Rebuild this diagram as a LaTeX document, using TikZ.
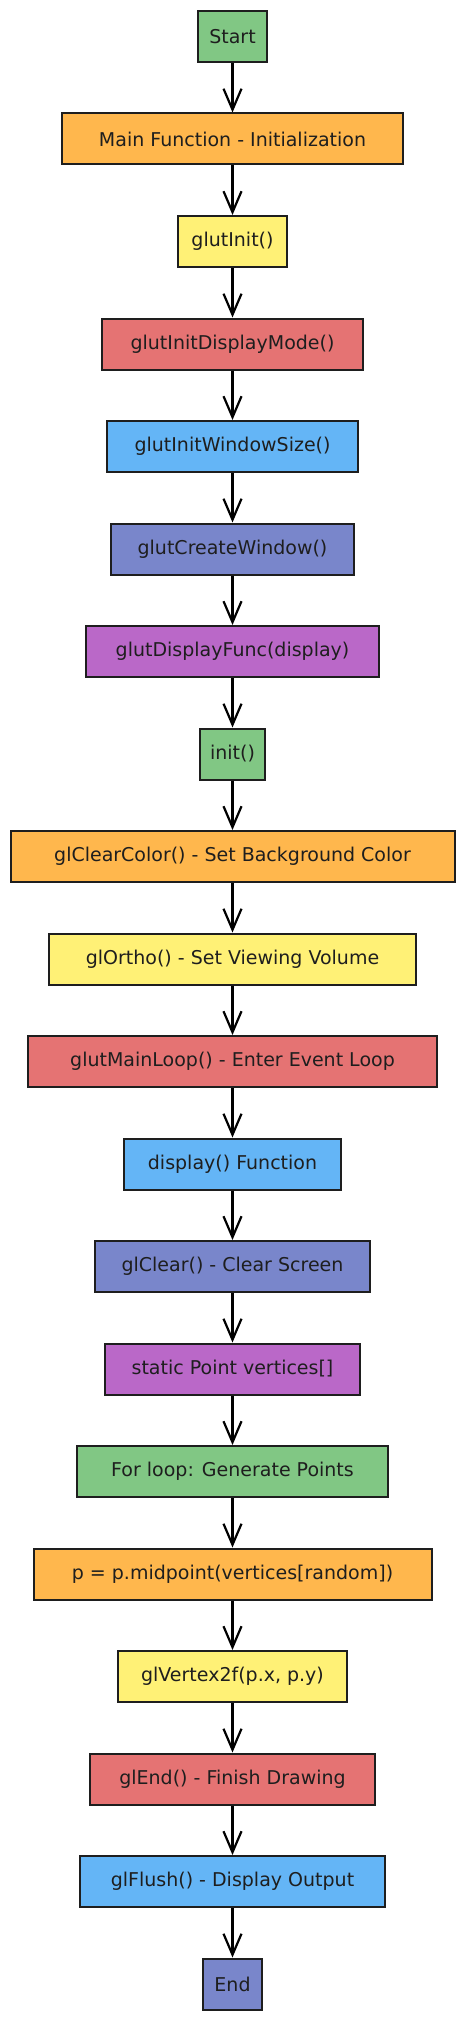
\documentclass[tikz,border=0pt]{standalone}
\usepackage{fontspec}
\setmainfont{DejaVu Sans}
\usepackage{xcolor}
\usepackage{tikz}
\usetikzlibrary{shapes.geometric, arrows.meta}
\definecolor{inkgray}{HTML}{1E1E1E}
\definecolor{boxgreen}{HTML}{81C784}
\definecolor{boxorange}{HTML}{FFB74D}
\definecolor{boxyellow}{HTML}{FFF176}
\definecolor{boxred}{HTML}{E57373}
\definecolor{boxblue}{HTML}{64B5F6}
\definecolor{boxindigo}{HTML}{7986CB}
\definecolor{boxpurple}{HTML}{BA68C8}
\tikzstyle{block} = [rectangle, 
minimum height=51pt, 
inner sep=0pt,
text centered, 
draw=inkgray, 
line width=2pt,
text=inkgray,
font=\fontsize{19}{23}\selectfont]
\tikzstyle{arrow} = [line width=2.2pt, draw=black, ->, >={Straight Barb[length=21pt, width=18pt]}]

\begin{document}
\begin{tikzpicture}[node distance=102.5pt]
\useasboundingbox (0,0) rectangle (465pt,-2020pt);

\node (start) [block, fill=boxgreen, minimum width=69pt] at (232.5pt,-36.5pt) {Start};
\node (mainfunc) [block, fill=boxorange, minimum width=341pt, below of=start] {Main Function - Initialization};
\node (glutinit) [block, fill=boxyellow, minimum width=109pt, below of=mainfunc] {glutInit()};
\node (displaymode) [block, fill=boxred, minimum width=261pt, below of=glutinit] {glutInitDisplayMode()};
\node (windowsize) [block, fill=boxblue, minimum width=251pt, below of=displaymode] {glutInitWindowSize()};
\node (createwindow) [block, fill=boxindigo, minimum width=243pt, below of=windowsize] {glutCreateWindow()};
\node (displayfunc) [block, fill=boxpurple, minimum width=293pt, below of=createwindow] {glutDisplayFunc(display)};
\node (init) [block, fill=boxgreen, minimum width=65pt, below of=displayfunc] {init()};
\node (clearcolor) [block, fill=boxorange, minimum width=444pt, below of=init] {glClearColor() - Set Background Color};
\node (ortho) [block, fill=boxyellow, minimum width=367pt, below of=clearcolor] {glOrtho() - Set Viewing Volume};
\node (mainloop) [block, fill=boxred, minimum width=409pt, below of=ortho] {glutMainLoop() - Enter Event Loop};
\node (display) [block, fill=boxblue, minimum width=217pt, below of=mainloop] {display() Function};
\node (clear) [block, fill=boxindigo, minimum width=275pt, below of=display] {glClear() - Clear Screen};
\node (vertices) [block, fill=boxpurple, minimum width=255pt, below of=clear] {static Point vertices[]};
\node (forloop) [block, fill=boxgreen, minimum width=311pt, below of=vertices] {For loop: Generate Points};
\node (midpoint) [block, fill=boxorange, minimum width=398pt, below of=forloop] {p = p.midpoint(vertices[random])};
\node (vertex) [block, fill=boxyellow, minimum width=229pt, below of=midpoint] {glVertex2f(p.x, p.y)};
\node (glend) [block, fill=boxred, minimum width=285pt, below of=vertex] {glEnd() - Finish Drawing};
\node (flush) [block, fill=boxblue, minimum width=305pt, below of=glend] {glFlush() - Display Output};
\node (finish) [block, fill=boxindigo, minimum width=59pt, below of=flush] {End};

\draw [arrow] (start) -- (mainfunc);
\draw [arrow] (mainfunc) -- (glutinit);
\draw [arrow] (glutinit) -- (displaymode);
\draw [arrow] (displaymode) -- (windowsize);
\draw [arrow] (windowsize) -- (createwindow);
\draw [arrow] (createwindow) -- (displayfunc);
\draw [arrow] (displayfunc) -- (init);
\draw [arrow] (init) -- (clearcolor);
\draw [arrow] (clearcolor) -- (ortho);
\draw [arrow] (ortho) -- (mainloop);
\draw [arrow] (mainloop) -- (display);
\draw [arrow] (display) -- (clear);
\draw [arrow] (clear) -- (vertices);
\draw [arrow] (vertices) -- (forloop);
\draw [arrow] (forloop) -- (midpoint);
\draw [arrow] (midpoint) -- (vertex);
\draw [arrow] (vertex) -- (glend);
\draw [arrow] (glend) -- (flush);
\draw [arrow] (flush) -- (finish);

\end{tikzpicture}
\end{document}
